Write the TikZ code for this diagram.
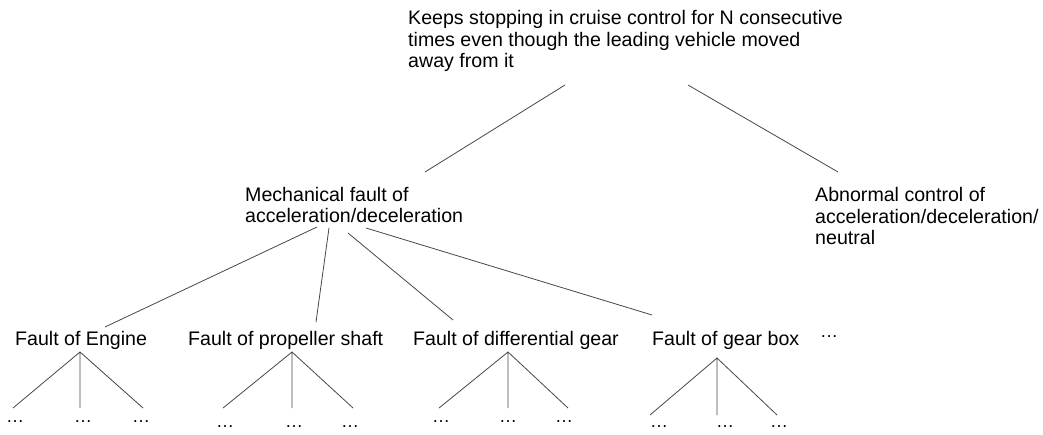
\documentclass[tikz,border=0pt]{standalone}
\usepackage{fontspec}
\setmainfont{Liberation Sans}
\begin{document}
\begin{tikzpicture}[x=1pt,y=-1pt,
  lbl/.style={anchor=base west,inner sep=0pt,align=left,font=\fontsize{19.6}{21.8}\selectfont},
  dots/.style={anchor=center,inner sep=0pt,font=\fontsize{18}{21}\selectfont},
  edge/.style={draw=black!72,line width=0.8pt}]
\useasboundingbox (0,0) rectangle (1043,435);
% text nodes (anchor = baseline of last line)
\node[lbl] (top) at (408,68) {Keeps stopping in cruise control for N consecutive\\times even though the leading vehicle moved\\away from it};
\node[lbl] (mech) at (245,223) {Mechanical fault of\\acceleration/deceleration};
\node[lbl] (abn) at (815,245) {Abnormal control of\\acceleration/deceleration/\\neutral};
\node[lbl] (eng) at (15,345) {Fault of Engine};
\node[lbl] (prop) at (188,345) {Fault of propeller shaft};
\node[lbl] (diff) at (413,345) {Fault of differential gear};
\node[lbl] (gear) at (652,345) {Fault of gear box};
\node[dots] (more) at (829,337) {…};
% leaf dots
\node[dots] (e1) at (15,422) {…};
\node[dots] (e2) at (83,422) {…};
\node[dots] (e3) at (141,422) {…};
\node[dots] (p1) at (225,427) {…};
\node[dots] (p2) at (294,427) {…};
\node[dots] (p3) at (350,427) {…};
\node[dots] (d1) at (441,422) {…};
\node[dots] (d2) at (508,422) {…};
\node[dots] (d3) at (564,422) {…};
\node[dots] (g1) at (659,427) {…};
\node[dots] (g2) at (725,427) {…};
\node[dots] (g3) at (779,427) {…};
% connector ends
\coordinate (topL) at (565,85);
\coordinate (topR) at (688,85);
\coordinate (mechT) at (425,172);
\coordinate (abnT) at (838,172);
\coordinate (m1) at (317,227);
\coordinate (m2) at (329,228);
\coordinate (m3) at (348,233);
\coordinate (m4) at (366,228);
\coordinate (engT) at (105,327);
\coordinate (propT) at (316,322);
\coordinate (diffT) at (453,320);
\coordinate (gearT) at (652,315);
\coordinate (engA) at (80,352);
\coordinate (propA) at (292,352);
\coordinate (diffA) at (508,352);
\coordinate (gearA) at (717,358);
\coordinate (e1t) at (13,408);
\coordinate (e2t) at (80,408);
\coordinate (e3t) at (143,408);
\coordinate (p1t) at (223,408);
\coordinate (p2t) at (292,408);
\coordinate (p3t) at (353,408);
\coordinate (d1t) at (439,408);
\coordinate (d2t) at (508,408);
\coordinate (d3t) at (568,408);
\coordinate (g1t) at (650,415);
\coordinate (g2t) at (717,415);
\coordinate (g3t) at (777,415);
% connectors
\draw[edge] (topL) -- (mechT);
\draw[edge] (topR) -- (abnT);
\draw[edge] (m1) -- (engT);
\draw[edge] (m2) -- (propT);
\draw[edge] (m3) -- (diffT);
\draw[edge] (m4) -- (gearT);
\draw[edge] (e1t) -- (engA) -- (e3t) (engA) -- (e2t);
\draw[edge] (p1t) -- (propA) -- (p3t) (propA) -- (p2t);
\draw[edge] (d1t) -- (diffA) -- (d3t) (diffA) -- (d2t);
\draw[edge] (g1t) -- (gearA) -- (g3t) (gearA) -- (g2t);
\end{tikzpicture}
\end{document}
